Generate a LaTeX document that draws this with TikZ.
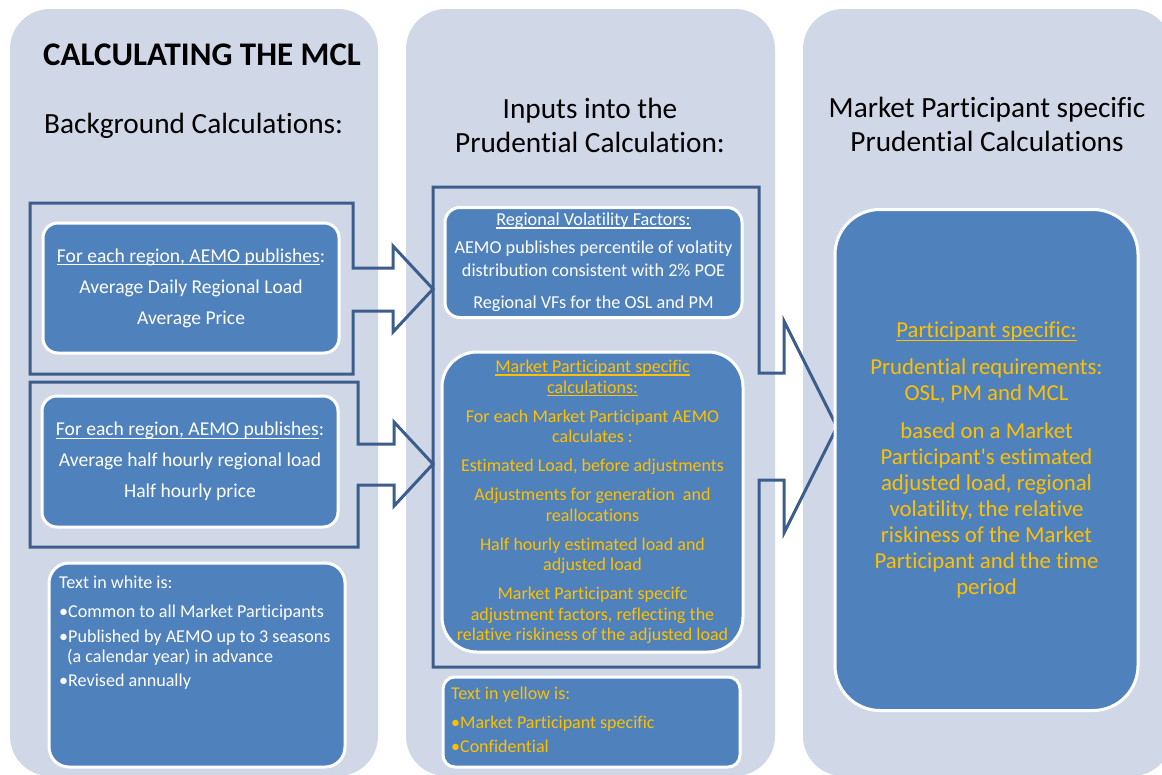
\documentclass[tikz,border=0pt]{standalone}
\usepackage{fontspec}
\setmainfont{Carlito}[Ligatures={TeXOff,NoCommon}]
\newcommand{\myul}[1]{\leavevmode\setbox0\hbox{#1}\rlap{\rule[-0.16em]{\wd0}{0.065em}}\box0}
\definecolor{bgc}{HTML}{D0D8E8}
\definecolor{boxc}{HTML}{4F81BD}
\definecolor{framec}{HTML}{3B5E8C}
\definecolor{yel}{HTML}{FFC000}
\begin{document}
\begin{tikzpicture}[x=1pt,y=-1pt,
  colbg/.style={fill=bgc},
  framepath/.style={draw=framec, line width=3pt, line join=miter},
  bluebox/.style={rectangle, fill=boxc, draw=white, line width=3pt, inner sep=0pt, align=center},
  whitetxt/.style={text=white},
  yeltxt/.style={text=yel},
  heading/.style={font=\fontsize{29.3}{34}\selectfont, anchor=base, inner sep=0pt},
  leftline/.style={anchor=base west, inner sep=0pt},
]
\useasboundingbox (0,0) rectangle (1162,774);
% columns
\fill[colbg, rounded corners=40pt] (10,9) rectangle (378,776);
\fill[colbg, rounded corners=40pt] (406,9) rectangle (775,776);
\fill[colbg, rounded corners=40pt] (803,9) rectangle (1172,776);

% headings
\node[anchor=base west, inner sep=0pt, font=\fontsize{33}{38}\selectfont\bfseries] (title) at (43,65) {CALCULATING THE MCL};
\node[heading, anchor=base west] (bghead) at (44,133) {Background Calculations:};
\node[heading] (inhead1) at (590,118) {Inputs into the};
\node[heading] (inhead2) at (590,152) {Prudential Calculation:};
\node[heading] (mphead1) at (987,117) {Market Participant specific};
\node[heading] (mphead2) at (987,151) {Prudential Calculations};

% frames with arrows
\draw[framepath] (30,203) -- (353,203) -- (353,268) -- (393,268) -- (393,246) -- (433,289) -- (393,332) -- (393,311) -- (353,311) -- (353,374) -- (30,374) -- cycle;
\draw[framepath] (30,382) -- (358,382) -- (358,444) -- (394,444) -- (394,422) -- (433,464) -- (394,506) -- (394,485) -- (358,485) -- (358,547) -- (30,547) -- cycle;
\draw[framepath] (433,187) -- (759,187) -- (759,373) -- (784,373) -- (784,321) -- (837,427) -- (784,533) -- (784,480) -- (759,480) -- (759,667) -- (433,667) -- cycle;

% left column boxes
\node[bluebox, rounded corners=15pt, minimum width=296pt, minimum height=130pt, whitetxt,
  font=\fontsize{19.6}{22}\selectfont] (boxA) at (191,288)
  {\myul{For each region, AEMO publishes}:\\[9pt] Average Daily Regional Load\\[9pt] Average Price};
\node[bluebox, rounded corners=15pt, minimum width=296pt, minimum height=131pt, whitetxt,
  font=\fontsize{19.6}{22}\selectfont] (boxB) at (190,461.5)
  {\myul{For each region, AEMO publishes}:\\[9pt] Average half hourly regional load\\[9pt] Half hourly price};
\node[bluebox, rounded corners=20pt, minimum width=296pt, minimum height=204pt] (boxC) at (197,665) {};
\begin{scope}[every node/.style={leftline, text=white, font=\fontsize{18.1}{20.5}\selectfont}]
\node (c1) at (59,588) {Text in white is:};
\node (c2) at (59,617) {•Common to all Market Participants};
\node (c3) at (59,642) {•Published by AEMO up to 3 seasons};
\node (c4) at (67,662) {(a calendar year) in advance};
\node (c5) at (59,686) {•Revised annually};
\end{scope}

% middle column boxes
\node[bluebox, rounded corners=15pt, minimum width=297pt, minimum height=110pt, whitetxt,
  font=\fontsize{18.2}{23}\selectfont] (boxD) at (593.5,262.5)
  {\myul{Regional Volatility Factors:}\\[5pt] AEMO publishes percentile of volatity\\ distribution consistent with 2\% POE\\[9pt] Regional VFs for the OSL and PM};
\node[bluebox, rounded corners=35pt, minimum width=301pt, minimum height=300pt, yeltxt,
  font=\fontsize{18}{20.5}\selectfont] (boxE) at (592.5,502)
  {\myul{Market Participant specific}\\ \myul{calculations:}\\[8.5pt]
   For each Market Participant AEMO\\ calculates :\\[8.5pt]
   Estimated Load, before adjustments\\[8.5pt]
   Adjustments for generation\ \ and\\ reallocations\\[8.5pt]
   Half hourly estimated load and\\ adjusted load\\[8.5pt]
   Market Participant specifc\\ adjustment factors, reflecting the\\ relative riskiness of the adjusted load};
\node[bluebox, rounded corners=12pt, minimum width=297pt, minimum height=90pt] (boxF) at (591.5,722) {};
\begin{scope}[every node/.style={leftline, text=yel, font=\fontsize{18}{20.5}\selectfont}]
\node (f1) at (451,699) {Text in yellow is:};
\node (f2) at (451,728) {•Market Participant specific};
\node (f3) at (451,752) {•Confidential};
\end{scope}

% right column box
\node[bluebox, rounded corners=45pt, minimum width=303pt, minimum height=501pt, yeltxt,
  font=\fontsize{22.8}{26}\selectfont] (boxG) at (986.5,460)
  {\myul{Participant specific:}\\[11pt]
   Prudential requirements:\\ OSL, PM and MCL\\[12pt]
   based on a Market\\ Participant's estimated\\ adjusted load, regional\\ volatility, the relative\\ riskiness of the Market\\ Participant and the time\\ period};
\end{tikzpicture}
\end{document}
